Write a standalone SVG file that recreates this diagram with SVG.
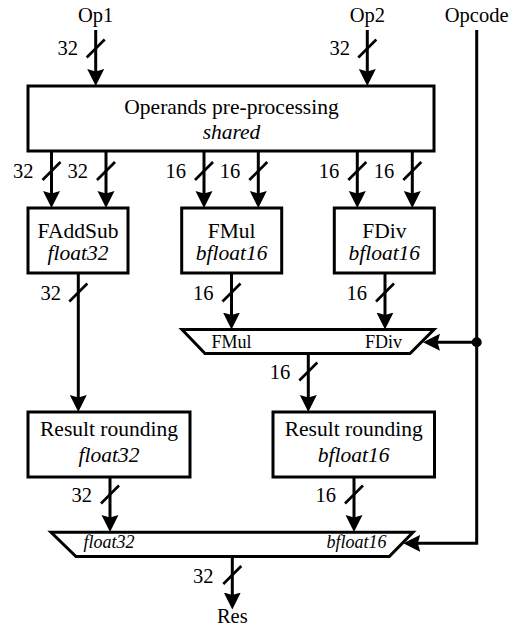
<svg xmlns="http://www.w3.org/2000/svg" width="512" height="628" viewBox="0 0 512 628" font-family="'Liberation Serif', 'Times New Roman', 'DejaVu Serif', serif">
<style>
text{font-family:'Liberation Serif','Times New Roman','DejaVu Serif',serif;fill:#000}
.t{font-size:21.5px;text-anchor:middle}
.i{font-style:italic}
.l{font-size:20.5px;text-anchor:end}
.io{font-size:20.5px;text-anchor:middle}
.m{font-size:18px}
.box{fill:#fff;stroke:#000;stroke-width:3}
.w{fill:none;stroke:#000;stroke-width:3}
.a{marker-end:url(#ah)}
.s{stroke:#000;stroke-width:2.6;fill:none}
</style>
<defs>
<marker id="ah" viewBox="0 -9 18 18" refX="7" refY="0" markerWidth="18" markerHeight="18" markerUnits="userSpaceOnUse" orient="auto">
<path d="M17,0 L0,-8.5 L2.5,0 L0,8.5 Z" fill="#000"/>
</marker>
</defs>
<rect width="512" height="628" fill="#fff"/>

<g id="connectors">
<line class="w a" x1="95.7" y1="30" x2="95.7" y2="76"/>
<line class="s" x1="86.7" y1="57.5" x2="104.7" y2="39.5"/>
<line class="w a" x1="367.3" y1="30" x2="367.3" y2="76"/>
<line class="s" x1="358.3" y1="57.5" x2="376.3" y2="39.5"/>
<line class="w a" x1="51.5" y1="151" x2="51.5" y2="198"/>
<line class="s" x1="42.5" y1="180" x2="60.5" y2="162"/>
<line class="w a" x1="106" y1="151" x2="106" y2="198"/>
<line class="s" x1="97" y1="180" x2="115" y2="162"/>
<line class="w a" x1="204" y1="151" x2="204" y2="198"/>
<line class="s" x1="195" y1="180" x2="213" y2="162"/>
<line class="w a" x1="258.3" y1="151" x2="258.3" y2="198"/>
<line class="s" x1="249.3" y1="180" x2="267.3" y2="162"/>
<line class="w a" x1="357.3" y1="151" x2="357.3" y2="198"/>
<line class="s" x1="348.3" y1="180" x2="366.3" y2="162"/>
<line class="w a" x1="412.3" y1="151" x2="412.3" y2="198"/>
<line class="s" x1="403.3" y1="180" x2="421.3" y2="162"/>
<line class="w a" x1="78.3" y1="273" x2="78.3" y2="402"/>
<line class="s" x1="69.3" y1="301.5" x2="87.3" y2="283.5"/>
<line class="w a" x1="231.5" y1="273" x2="231.5" y2="319.5"/>
<line class="s" x1="222.5" y1="301.5" x2="240.5" y2="283.5"/>
<line class="w a" x1="385" y1="273" x2="385" y2="319.5"/>
<line class="s" x1="376" y1="301.5" x2="394" y2="283.5"/>
<line class="w a" x1="308.3" y1="353.5" x2="308.3" y2="402"/>
<line class="s" x1="299.3" y1="380.5" x2="317.3" y2="362.5"/>
<line class="w a" x1="110" y1="477" x2="110" y2="522"/>
<line class="s" x1="101" y1="503.5" x2="119" y2="485.5"/>
<line class="w a" x1="354" y1="477" x2="354" y2="522"/>
<line class="s" x1="345" y1="503.5" x2="363" y2="485.5"/>
<line class="w a" x1="232.3" y1="556.5" x2="232.3" y2="599.5"/>
<line class="s" x1="223.3" y1="584" x2="241.3" y2="566"/>
<polyline class="w a" points="476.7,30 476.7,543.3 413.3,543.3"/>
<line class="w a" x1="476.7" y1="342.3" x2="433" y2="342.3"/>
<circle cx="476.7" cy="342.3" r="5" fill="#000"/>
</g>

<g id="labels">
<text class="l" x="78" y="55">32</text>
<text class="l" x="350" y="55">32</text>
<text class="l" x="33.5" y="178">32</text>
<text class="l" x="88" y="178">32</text>
<text class="l" x="186" y="178">16</text>
<text class="l" x="240.3" y="178">16</text>
<text class="l" x="339.3" y="178">16</text>
<text class="l" x="394.3" y="178">16</text>
<text class="l" x="61" y="300">32</text>
<text class="l" x="213.5" y="300">16</text>
<text class="l" x="367" y="300">16</text>
<text class="l" x="290.3" y="379">16</text>
<text class="l" x="92" y="501.5">32</text>
<text class="l" x="336" y="501.5">16</text>
<text class="l" x="213.5" y="582.5">32</text>
</g>

<g id="op1"><text class="io" x="95.7" y="21.5">Op1</text></g>
<g id="op2"><text class="io" x="367.3" y="21.5">Op2</text></g>
<g id="opcode"><text class="io" x="476.7" y="21.5">Opcode</text></g>

<g id="preproc">
<rect class="box" x="28" y="86" width="406" height="65"/>
<text class="t" x="231.5" y="113.5">Operands pre-processing</text>
<text class="t i" x="231.5" y="138.5">shared</text>
</g>

<g id="faddsub">
<rect class="box" x="28" y="208" width="100" height="65"/>
<text class="t" x="78" y="238">FAddSub</text>
<text class="t i" x="78" y="260">float32</text>
</g>

<g id="fmul">
<rect class="box" x="181.7" y="208" width="100" height="65"/>
<text class="t" x="231.7" y="238">FMul</text>
<text class="t i" x="231.7" y="260">bfloat16</text>
</g>

<g id="fdiv">
<rect class="box" x="334.3" y="208" width="100" height="65"/>
<text class="t" x="384.3" y="238">FDiv</text>
<text class="t i" x="384.3" y="260">bfloat16</text>
</g>

<g id="mux1">
<polygon class="box" points="182,329.5 434,329.5 410,353.5 205,353.5"/>
<text class="m" x="211.5" y="348">FMul</text>
<text class="m" x="402" y="348" text-anchor="end">FDiv</text>
</g>

<g id="round32">
<rect class="box" x="28" y="412" width="162" height="65"/>
<text class="t" x="109" y="435.5">Result rounding</text>
<text class="t i" x="109" y="461.5">float32</text>
</g>

<g id="round16">
<rect class="box" x="273" y="412" width="161.5" height="65"/>
<text class="t" x="353.7" y="435.5">Result rounding</text>
<text class="t i" x="353.7" y="461.5">bfloat16</text>
</g>

<g id="mux2">
<polygon class="box" points="51,532.3 413,532.3 389.3,556.5 76,556.5"/>
<text class="m i" x="83.5" y="548">float32</text>
<text class="m i" x="386.5" y="548" text-anchor="end">bfloat16</text>
</g>

<g id="res"><text class="io" x="232.3" y="623">Res</text></g>
</svg>
